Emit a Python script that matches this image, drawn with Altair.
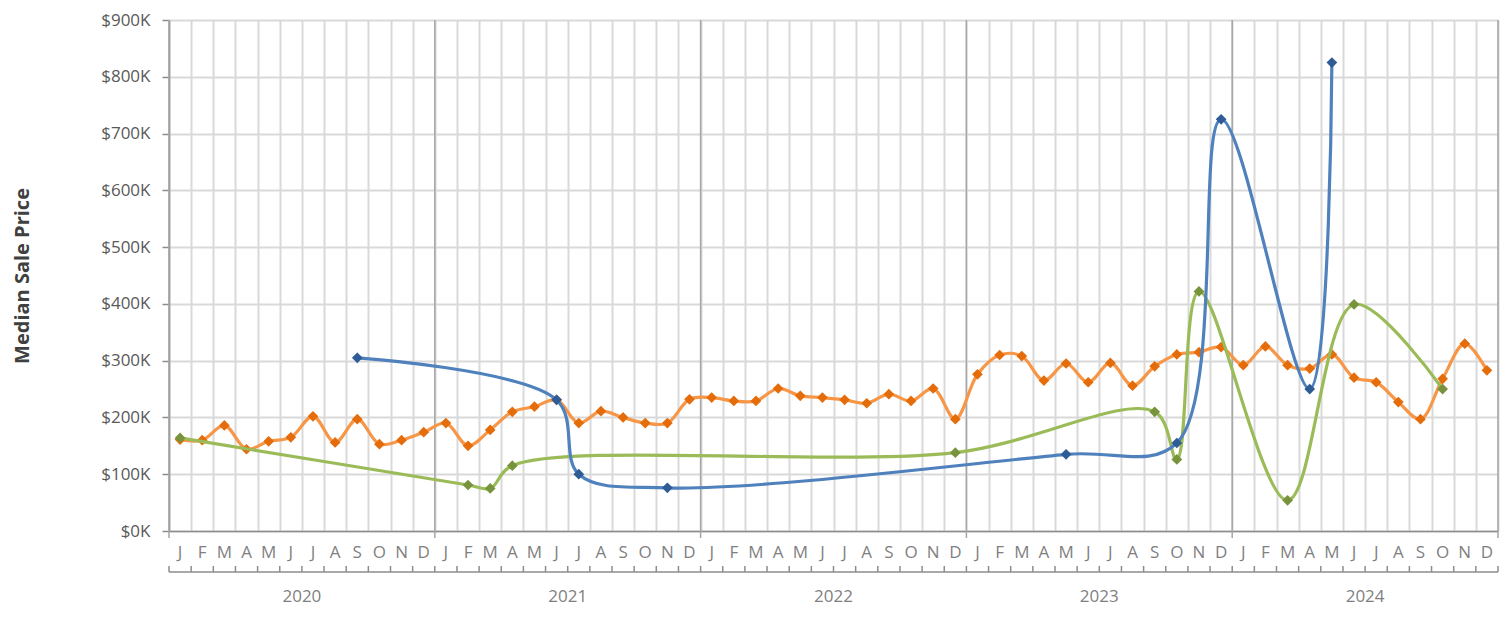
import altair as alt
import pandas as pd

# ---------------- data (values in $K) ----------------
MONTH_LETTERS = ["J", "F", "M", "A", "M", "J", "J", "A", "S", "O", "N", "D"]
YEARS = ["2020", "2021", "2022", "2023", "2024"]
Y_TICKS_K = [0, 100, 200, 300, 400, 500, 600, 700, 800, 900]

N = None
# blue series
BLUE_K = (
    [N, N, N, N, N, N, N, N, 305, N, N, N]        # 2020
    + [N, N, N, N, N, 231, 100, N, N, N, 76, N]   # 2021
    + [N, N, N, N, N, N, N, N, N, N, N, N]        # 2022
    + [N, N, N, N, 135, N, N, N, N, 155, N, 725]  # 2023
    + [N, N, N, 250, 825, N, N, N, N, N, N, N]    # 2024
)
# orange series
ORANGE_K = (
    [161, 160, 186, 144, 158, 165, 202, 156, 197, 153, 160, 174]    # 2020
    + [190, 150, 178, 210, 219, 231, 190, 211, 200, 190, 190, 232]  # 2021
    + [235, 229, 229, 251, 238, 235, 231, 225, 241, 229, 251, 197]  # 2022
    + [276, 310, 308, 265, 295, 262, 296, 256, 290, 311, 315, 324]  # 2023
    + [292, 325, 292, 286, 311, 270, 262, 227, 197, 268, 330, 283]  # 2024
)
# green series
GREEN_K = (
    [164, N, N, N, N, N, N, N, N, N, N, N]          # 2020
    + [N, 81, 75, 115, N, N, N, N, N, N, N, N]      # 2021
    + [N, N, N, N, N, N, N, N, N, N, N, 138]        # 2022
    + [N, N, N, N, N, N, N, N, 210, 126, 422, N]    # 2023
    + [N, N, 54, N, N, 399, N, N, N, 250, N, N]     # 2024
)

SERIES = [
    # name, values, line colour, marker colour  (draw order: orange, green, blue)
    ("Series 2", ORANGE_K, "#F79646", "#E46C0A"),
    ("Series 3", GREEN_K, "#9BBB59", "#77933C"),
    ("Series 1", BLUE_K, "#4F81BD", "#2F5C96"),
]

W, H = 1329, 511
FONT = "Open Sans"

x_scale = alt.Scale(domain=[0, 60], nice=False, zero=False)
y_scale = alt.Scale(domain=[0, 900000], nice=False, zero=True)

x_axis = alt.Axis(
    values=list(range(61)), grid=True, gridColor="#D9D9D9", gridWidth=2,
    labels=False, ticks=False, domain=True, domainColor="#8C8C8C",
    domainWidth=1.5, title="",
)
y_axis = alt.Axis(
    values=[v * 1000 for v in Y_TICKS_K],
    labelExpr="'$' + format(datum.value / 1000, 'd') + 'K'",
    grid=True, gridColor="#D9D9D9", gridWidth=1.8,
    tickSize=7, tickColor="#8C8C8C", tickWidth=1.5,
    domain=True, domainColor="#8C8C8C", domainWidth=1.5,
    labelFont=FONT, labelFontSize=17, labelColor="#595959", labelPadding=12,
    title="Median Sale Price", titleFont=FONT, titleFontSize=20,
    titleFontWeight="bold", titleColor="#404040",
    titleX=-137, titleY=H / 2,
)


def X(field):
    return alt.X(field, scale=x_scale, axis=x_axis)


def Y(field):
    return alt.Y(field, scale=y_scale, axis=y_axis)


layers = []

# year boundary lines (darker), extending below the axis
year_bounds = pd.DataFrame({"b": [0, 12, 24, 36, 48, 60]})
layers.append(
    alt.Chart(year_bounds).mark_rule(color="#A6A6A6", strokeWidth=1.5).encode(
        x=X("b:Q"), y=alt.value(0), y2=alt.value(H + 7),
    )
)

for name, vals, lcol, mcol in SERIES:
    rows = [{"series": name, "pos": i + 0.5, "price": v * 1000}
            for i, v in enumerate(vals) if v is not None]
    df = pd.DataFrame(rows)
    layers.append(
        alt.Chart(df).mark_line(interpolate="catmull-rom", strokeWidth=3.2, color=lcol)
        .encode(x=X("pos:Q"), y=Y("price:Q"))
    )
    layers.append(
        alt.Chart(df).mark_point(shape="diamond", filled=True, size=115,
                                 color=mcol, opacity=1)
        .encode(x=X("pos:Q"), y=Y("price:Q"))
    )

# month letters
months_df = pd.DataFrame({
    "pos": [i + 0.5 for i in range(60)],
    "label": MONTH_LETTERS * len(YEARS),
})
layers.append(
    alt.Chart(months_df).mark_text(font=FONT, fontSize=17, color="#7F7F7F",
                                   baseline="middle", align="center")
    .encode(x=X("pos:Q"), y=alt.value(H + 22), text="label:N")
)

# bracket under the month row
month_bounds = pd.DataFrame({"b": list(range(61))})
layers.append(
    alt.Chart(month_bounds).mark_rule(color="#8C8C8C", strokeWidth=1.5).encode(
        x=X("b:Q"), y=alt.value(H + 35), y2=alt.value(H + 41),
    )
)
bracket = pd.DataFrame({"a": [0], "b": [60]})
layers.append(
    alt.Chart(bracket).mark_rule(color="#8C8C8C", strokeWidth=1.5).encode(
        x=X("a:Q"), x2="b:Q", y=alt.value(H + 41),
    )
)

# year labels
years_df = pd.DataFrame({"pos": [6, 18, 30, 42, 54], "label": YEARS})
layers.append(
    alt.Chart(years_df).mark_text(font=FONT, fontSize=17, color="#7F7F7F",
                                  baseline="middle", align="center")
    .encode(x=X("pos:Q"), y=alt.value(H + 66), text="label:N")
)

chart = (
    alt.layer(*layers)
    .properties(
        width=W, height=H,
        autosize=alt.AutoSizeParams(type="none"),
        padding={"left": 161, "top": 12, "right": 5, "bottom": 76},
        background="white",
    )
    .configure_view(stroke=None)
)

chart.save("out.html", embed_options={"renderer": "svg", "actions": False})
